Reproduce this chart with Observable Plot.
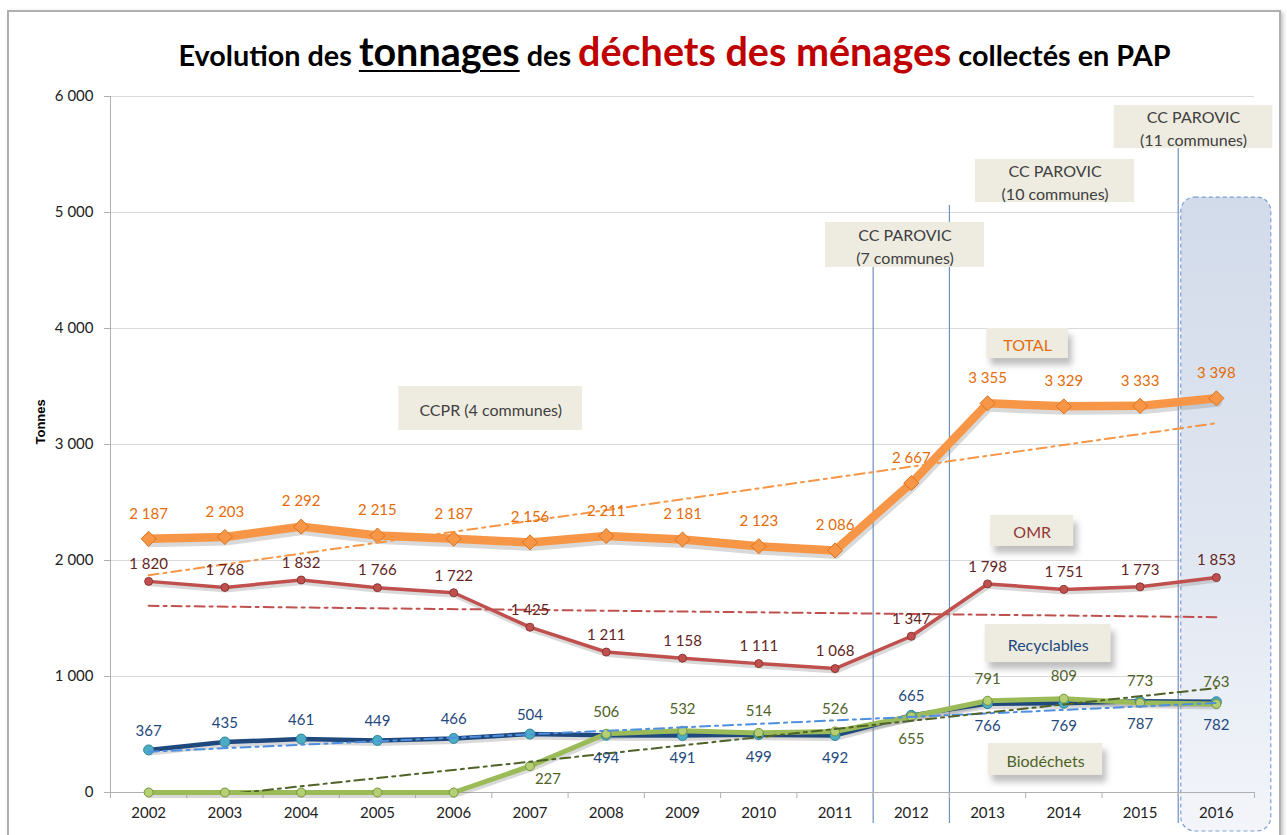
<!DOCTYPE html>
<html><head><meta charset="utf-8">
<script src="https://cdn.jsdelivr.net/npm/d3@7"></script>
<script src="https://cdn.jsdelivr.net/npm/@observablehq/plot@0.6"></script>
<style>
body{margin:0;background:#fff;}
#wrap{position:relative;width:1287px;height:835px;overflow:hidden;font-family:Lato,sans-serif;}
#frame{position:absolute;left:7px;top:10px;width:1270px;height:850px;border:2px solid #b0b0b0;box-shadow:2px 2px 4px rgba(0,0,0,0.25);}
#title{position:relative;height:80px;box-sizing:border-box;padding-top:31px;padding-left:62px;text-align:center;font-weight:bold;font-size:28.8px;color:#000;line-height:40px;white-space:nowrap;}
#title .big{font-size:39.5px}
#title .u{text-decoration:underline;text-decoration-thickness:2px;text-underline-offset:4px}
#title .red{color:#c00000}
#chart svg{display:block;position:relative}
</style></head>
<body>
<div id="wrap">
<div id="frame"></div>
<div id="title">Evolution des <span class="big u">tonnages</span> des <span class="big red">déchets des ménages</span> collectés en PAP</div>
<div id="chart"></div>
</div>
<script>
// ---------- data ----------
const years = [2002,2003,2004,2005,2006,2007,2008,2009,2010,2011,2012,2013,2014,2015,2016];
const total = [2187,2203,2292,2215,2187,2156,2211,2181,2123,2086,2667,3355,3329,3333,3398];
const omr = [1820,1768,1832,1766,1722,1425,1211,1158,1111,1068,1347,1798,1751,1773,1853];
const recyclables = [367,435,461,449,466,504,494,491,499,492,665,766,769,787,782];
const biodechets = [0,0,0,0,0,227,506,532,514,526,655,791,809,773,763];
const yTicks = [0,1000,2000,3000,4000,5000,6000];
const recyclablesLabelSide = ["above","above","above","above","above","above","below","below","below","below","above","below","below","below","below"];
const biodechetsLabelSide = [null,null,null,null,null,"belowRight","above","above","above","above","below","above","above","above","above"];
const perimeterLabels = ["CC PAROVIC\n(7 communes)","CC PAROVIC\n(10 communes)","CC PAROVIC\n(11 communes)"];
const perimeterAfterYear = [2011, 2012, 2015];
const highlightYear = 2016;

// ---------- helpers ----------
const fr = d3.formatLocale({decimal: ",", thousands: "\u00a0", grouping: [3]});
const fmt = fr.format(",d");
const rowsOf = vals => years.map((year, i) => ({year, value: vals[i], i}));
const T = rowsOf(total), O = rowsOf(omr), R = rowsOf(recyclables), B = rowsOf(biodechets);

// annotation layout (year / tonnes units)
const boxes = [
  {text: "CCPR (4 communes)", x1: 2005.28, x2: 2007.69, y1: 3121, y2: 3500, color: "#404040", shadow: false},
  {text: perimeterLabels[0], x1: 2010.875, x2: 2012.96, y1: 4526, y2: 4914, color: "#404040", shadow: false},
  {text: perimeterLabels[1], x1: 2012.84, x2: 2014.93, y1: 5086, y2: 5457, color: "#404040", shadow: false},
  {text: perimeterLabels[2], x1: 2014.66, x2: 2016.74, y1: 5552, y2: 5922, color: "#404040", shadow: false},
  {text: "TOTAL", x1: 2012.99, x2: 2014.06, y1: 3741, y2: 4000, color: "#e46c0a", shadow: true},
  {text: "OMR", x1: 2013.04, x2: 2014.13, y1: 2121, y2: 2388, color: "#953735", shadow: true},
  {text: "Recyclables", x1: 2012.97, x2: 2014.62, y1: 1121, y2: 1448, color: "#1f497d", shadow: true},
  {text: "Biodéchets", x1: 2013.01, x2: 2014.51, y1: 147, y2: 422, color: "#4f6228", shadow: true}
];
const ruleTops = [4526, 5060, 5552];
const rules = perimeterAfterYear.map((y, i) => ({x: y + 0.5, y1: -267, y2: ruleTops[i]}));
const shade = [{x1: highlightYear - 0.46, x2: highlightYear + 0.72, y1: -336, y2: 5129}];
const xTickPositions = [years[0] - 0.5, ...years.map(y => y + 0.5)];

const recLab = R.map(d => ({...d, side: recyclablesLabelSide[d.i]}));
const bioLab = B.filter(d => biodechetsLabelSide[d.i]).map(d => ({...d, side: biodechetsLabelSide[d.i]}));

const labelFont = {fontSize: 15, fontFamily: "Lato, sans-serif"};
const trendDash = "10,5,3,5";

const plot = Plot.plot({
  width: 1287,
  height: 755,
  marginTop: 16,
  marginBottom: 43,
  marginLeft: 110,
  marginRight: 33,
  style: {fontFamily: "Lato, sans-serif", fontSize: "15px", background: "transparent", overflow: "visible"},
  x: {domain: [2001.5, 2016.5]},
  y: {domain: [0, 6000]},
  marks: [
    Plot.gridY(yTicks, {stroke: "#d9d9d9", strokeOpacity: 1}),
    Plot.rect(shade, {x1: "x1", x2: "x2", y1: "y1", y2: "y2", fill: "url(#shadeGrad)", stroke: "#7f9fd4", strokeDasharray: "4,3", strokeWidth: 1.2, rx: 14, ry: 14}),
    Plot.ruleX(rules, {x: "x", y1: "y1", y2: "y2", stroke: "#6e8fc4", strokeWidth: 1.2}),
    Plot.ruleX([years[0] - 0.5], {y1: -45, y2: 6000, stroke: "#b0b0b0"}),
    Plot.ruleY([0], {stroke: "#b0b0b0"}),
    Plot.axisY(yTicks, {tickSize: 6, tickPadding: 11, tickFormat: fmt, stroke: "#b0b0b0", fill: "#222", fontSize: 15, label: null}),
    Plot.axisX(xTickPositions, {tickSize: 6, tickFormat: () => "", stroke: "#b0b0b0", label: null}),
    Plot.axisX(years, {tickSize: 0, tickPadding: 15, tickFormat: d => String(d), fill: "#222", fontSize: 15, label: null}),
    Plot.text(["Tonnes"], {frameAnchor: "left", rotate: -90, dx: -70, fontWeight: "bold", fontSize: 13, fontFamily: "Liberation Sans, Arial, sans-serif", fill: "#000"}),

    // shadows
    Plot.line(T, {x: "year", y: "value", stroke: "#808080", strokeOpacity: 0.3, strokeWidth: 9, dy: 4, dx: 1, strokeLinejoin: "round"}),
    Plot.line(O, {x: "year", y: "value", stroke: "#808080", strokeOpacity: 0.3, strokeWidth: 4, dy: 3, dx: 1, strokeLinejoin: "round"}),
    Plot.line(R, {x: "year", y: "value", stroke: "#808080", strokeOpacity: 0.3, strokeWidth: 5, dy: 3, dx: 1, strokeLinejoin: "round"}),
    Plot.line(B, {x: "year", y: "value", stroke: "#808080", strokeOpacity: 0.3, strokeWidth: 5, dy: 3, dx: 1, strokeLinejoin: "round"}),

    // series
    Plot.line(T, {x: "year", y: "value", stroke: "#f79646", strokeWidth: 8.5, strokeLinejoin: "round"}),
    Plot.line(O, {x: "year", y: "value", stroke: "#c0504d", strokeWidth: 3.5, strokeLinejoin: "round"}),
    Plot.line(R, {x: "year", y: "value", stroke: "#1f497d", strokeWidth: 4.5, strokeLinejoin: "round"}),
    Plot.line(B, {x: "year", y: "value", stroke: "#9bbb59", strokeWidth: 5, strokeLinejoin: "round"}),

    Plot.dot(T, {x: "year", y: "value", symbol: "diamond2", r: 6.8, fill: "#f79646", stroke: "#d9731f", strokeWidth: 1}),
    Plot.dot(O, {x: "year", y: "value", r: 4, fill: "#c0504d", stroke: "#8c3836", strokeWidth: 1}),
    Plot.dot(R, {x: "year", y: "value", r: 5, fill: "#4bacc6", stroke: "#31859c", strokeWidth: 1}),
    Plot.dot(B, {x: "year", y: "value", r: 4.5, fill: "#b5cf74", stroke: "#77933c", strokeWidth: 1}),

    // trends
    Plot.linearRegressionY(T, {x: "year", y: "value", ci: 0, stroke: "#f79646", strokeWidth: 2, strokeDasharray: trendDash, clip: true}),
    Plot.linearRegressionY(O, {x: "year", y: "value", ci: 0, stroke: "#c0504d", strokeWidth: 2, strokeDasharray: trendDash, clip: true}),
    Plot.linearRegressionY(R, {x: "year", y: "value", ci: 0, stroke: "#4f8fe0", strokeWidth: 2, strokeDasharray: trendDash, clip: true}),
    Plot.linearRegressionY(B, {x: "year", y: "value", ci: 0, stroke: "#4f6228", strokeWidth: 2, strokeDasharray: trendDash, clip: true}),

    // data labels
    Plot.text(T, {x: "year", y: "value", text: d => fmt(d.value), dy: -25, fill: "#e46c0a", ...labelFont}),
    Plot.text(O, {x: "year", y: "value", text: d => fmt(d.value), dy: -17, fill: "#632523", ...labelFont}),
    Plot.text(recLab.filter(d => d.side === "above"), {x: "year", y: "value", text: d => fmt(d.value), dy: -19, fill: "#1f497d", ...labelFont}),
    Plot.text(recLab.filter(d => d.side === "below"), {x: "year", y: "value", text: d => fmt(d.value), dy: 23, fill: "#1f497d", ...labelFont}),
    Plot.text(bioLab.filter(d => d.side === "above"), {x: "year", y: "value", text: d => fmt(d.value), dy: -22, fill: "#4f6228", ...labelFont}),
    Plot.text(bioLab.filter(d => d.side === "below"), {x: "year", y: "value", text: d => fmt(d.value), dy: 23, fill: "#4f6228", ...labelFont}),
    Plot.text(bioLab.filter(d => d.side === "belowRight"), {x: "year", y: "value", text: d => fmt(d.value), dy: 13, dx: 18, fill: "#4f6228", ...labelFont}),

    // annotation boxes
    Plot.rect(boxes.filter(d => d.shadow), {x1: "x1", x2: "x2", y1: "y1", y2: "y2", fill: "#8a8a8b", fillOpacity: 0.55, dx: 4, dy: 7}),
    Plot.rect(boxes, {x1: "x1", x2: "x2", y1: "y1", y2: "y2", fill: "#eeece1"}),
    Plot.text(boxes, {x: d => (d.x1 + d.x2) / 2, y: d => (d.y1 + d.y2) / 2, text: "text", fill: "color", fontSize: 16, lineHeight: 1.44, fontFamily: "Lato, sans-serif"})
  ]
});

const svg = d3.select(plot);
const defs = svg.insert("defs", ":first-child");
const grad = defs.append("linearGradient").attr("id", "shadeGrad").attr("x1", 0).attr("y1", 0).attr("x2", 0).attr("y2", 1);
grad.append("stop").attr("offset", "0%").attr("stop-color", "#d2dbea");
grad.append("stop").attr("offset", "60%").attr("stop-color", "#e2e8f2");
grad.append("stop").attr("offset", "100%").attr("stop-color", "#f3f5fa");
defs.append("filter").attr("id", "softBlur").attr("x", "-20%").attr("y", "-50%").attr("width", "140%").attr("height", "200%")
  .append("feGaussianBlur").attr("stdDeviation", 3);
svg.selectAll('g[fill="#8a8a8b"]').attr("filter", "url(#softBlur)");
document.getElementById("chart").appendChild(plot);
</script>
</body></html>
